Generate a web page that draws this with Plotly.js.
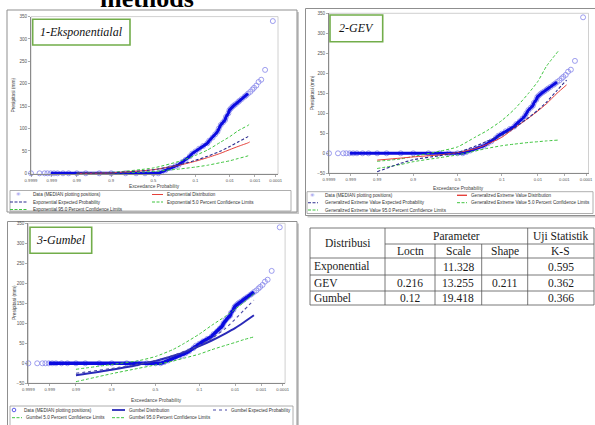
<!DOCTYPE html>
<html><head><meta charset="utf-8">
<script src="https://cdn.plot.ly/plotly-3.0.1.min.js"></script>
<style>html,body{margin:0;padding:0;background:#fff}#chart{width:595px;height:425px}</style>
</head><body><div id="chart"></div>
<script>
// ---------- tick labels ----------
const probTicks = [0.9999, 0.999, 0.99, 0.9, 0.5, 0.1, 0.01, 0.001, 0.0001];
const probTickText = ['0.9999', '0.999', '0.99', '0.9', '0.5', '0.1', '0.01', '0.001', '0.0001'];
const yTicksExp = [0, 50, 100, 150, 200, 250, 300, 350];
const yTicksOther = [-50, 0, 50, 100, 150, 200, 250, 300, 350];

// ---------- observed data (exceedance probability, rainfall mm) ----------
const dataP = [0.9999, 0.99973, 0.99953, 0.99936, 0.9991, 0.99874, 0.9982, 0.997, 0.995, 0.99, 0.98, 0.95, 0.9, 0.8, 0.7, 0.6, 0.5, 0.44,
  0.40, 0.356, 0.30, 0.25, 0.221, 0.19, 0.164, 0.134, 0.119, 0.1, 0.082, 0.065, 0.0505, 0.0446, 0.0359, 0.03, 0.0256, 0.0233, 0.0202,
  0.017, 0.0146, 0.0136, 0.0113, 0.0104, 0.0092, 0.008, 0.007, 0.006, 0.005, 0.0044, 0.0036, 0.0028, 0.0024, 0.002, 0.0016, 0.0013,
  0.0011, 0.00087, 0.00069, 0.00052, 0.00034, 0.00014];
const dataV = [0, 0, 0, 0, 0, 0, 0, 0, 0, 0, 0, 0, 0, 0, 0, 0, 0, 0,
  3, 7, 12, 16, 19, 25, 30, 38, 44, 49, 55, 61, 67, 73, 80, 87, 93, 100, 108,
  114, 119, 126, 134, 141, 145, 149, 152, 155, 159, 162, 166, 171, 174, 178, 182, 187,
  191, 196, 204, 209, 231, 340];

// ---------- 1 - Exponential ----------
const expP = [0.99, 0.9, 0.5, 0.2, 0.1, 0.05, 0.02, 0.01, 0.005, 0.002, 0.0017];
const expDistV = [0, 1, 8, 19, 27, 35, 45, 53, 60, 68, 70];
const expExpV = [0, 1, 8, 20, 29, 38, 50, 60, 70, 82, 85];
const expUpV = [0, 2, 12, 28, 40, 52, 70, 82, 95, 107, 110];
const expLoV = [0, 0.5, 4, 10, 14, 18, 24, 28, 33, 39, 41];

// ---------- 2 - GEV ----------
const gevP = [0.99, 0.95, 0.9, 0.7, 0.5, 0.3, 0.2, 0.1, 0.05, 0.02, 0.01, 0.005, 0.002, 0.0008];
const gevDistV = [-17, -12, -9, -4, 2, 12, 22, 40, 63, 88, 106, 124, 150, 171];
const gevExpV = [-46, -25, -16, -6, 2, 18, 30, 45, 64, 89, 108, 128, 157, 183];
const gevCiP = [0.99, 0.95, 0.9, 0.7, 0.5, 0.3, 0.2, 0.1, 0.05, 0.02, 0.01, 0.005, 0.0018];
const gevUpV = [-20, -14, -8, 5, 16, 41, 56, 82, 110, 150, 180, 218, 255];
const gevLoV = [-38, -28, -21, -11, -4, 6, 12, 19, 23, 27, 29, 31, 33];

// ---------- 3 - Gumbel ----------
const gumP = [0.99, 0.9, 0.7, 0.5, 0.3, 0.2, 0.1, 0.05, 0.02, 0.01, 0.005, 0.002];
const gumDistV = [-30, -16, -4, 6, 19, 28, 43, 57, 75, 88, 102, 120];
const gumExpV = [-25, -13, -2, 7, 20, 30, 45, 62, 88, 110, 132, 158];
const gumUpV = [-15, -3, 6, 17, 35, 50, 73, 95, 118, 135, 152, 174];
const gumLoV = [-46, -26, -13, -4, 6, 13, 23, 34, 45, 52, 59, 66];

// ---------- table ----------
const tblDist = ['Exponential', 'GEV', 'Gumbel'];
const tblLoc = ['', '0.216', '0.12'];
const tblScale = ['11.328', '13.255', '19.418'];
const tblShape = ['', '0.211', ''];
const tblKS = ['0.595', '0.362', '0.366'];

// ---------- normal probability axis transform ----------
function normInv(p) {
  const a = [-3.969683028665376e+01, 2.209460984245205e+02, -2.759285104469687e+02, 1.383577518672690e+02, -3.066479806614716e+01, 2.506628277459239e+00];
  const b = [-5.447609879822406e+01, 1.615858368580409e+02, -1.556989798598866e+02, 6.680131188771972e+01, -1.328068155288572e+01];
  const c = [-7.784894002430293e-03, -3.223964580411365e-01, -2.400758277161838e+00, -2.549732539343734e+00, 4.374664141464968e+00, 2.938163982698783e+00];
  const d = [7.784695709041462e-03, 3.224671290700398e-01, 2.445134137142996e+00, 3.754408661907416e+00];
  const pl = 0.02425, ph = 1 - pl; let q, r;
  if (p < pl) { q = Math.sqrt(-2 * Math.log(p)); return (((((c[0]*q+c[1])*q+c[2])*q+c[3])*q+c[4])*q+c[5]) / ((((d[0]*q+d[1])*q+d[2])*q+d[3])*q+1); }
  if (p <= ph) { q = p - 0.5; r = q*q; return (((((a[0]*r+a[1])*r+a[2])*r+a[3])*r+a[4])*r+a[5])*q / (((((b[0]*r+b[1])*r+b[2])*r+b[3])*r+b[4])*r+1); }
  q = Math.sqrt(-2 * Math.log(1 - p)); return -(((((c[0]*q+c[1])*q+c[2])*q+c[3])*q+c[4])*q+c[5]) / ((((d[0]*q+d[1])*q+d[2])*q+d[3])*q+1);
}
const zx = p => normInv(1 - p);

// ---------- helpers ----------
const W = 595, H = 425;
const px = x => x / W, py = y => 1 - y / H;
const FONT = 'Arial, "Liberation Sans", sans-serif';
const SERIF = '"Liberation Serif", "Times New Roman", serif';
const RED = '#e5413b', NAVY = '#2c2c8e', GREEN = '#3fc43f', DATA = '#0b0be0', MARK = '#8585ea';

function rect(x0, y0, x1, y1, line, fill, layer) {
  return {type: 'rect', xref: 'paper', yref: 'paper', x0: px(x0), x1: px(x1), y0: py(y1), y1: py(y0),
    line: line, fillcolor: fill || 'rgba(0,0,0,0)', layer: layer || 'above'};
}
function seg(x0, y0, x1, y1, color, width, dash) {
  return {type: 'line', xref: 'paper', yref: 'paper', x0: px(x0), x1: px(x1), y0: py(y0), y1: py(y1),
    line: {color: color, width: width, dash: dash || 'solid'}};
}
function txt(x, y, text, size, opts) {
  return Object.assign({xref: 'paper', yref: 'paper', x: px(x), y: py(y), text: text, showarrow: false,
    xanchor: 'left', yanchor: 'middle', font: {family: FONT, size: size, color: '#333'}}, opts || {});
}

const traces = [];
function addData(xa, ya, lineW) {
  const denseX = [], denseY = [];
  dataP.forEach((p, i) => { if (p <= 0.9991 && dataV[i] <= 180) { denseX.push(zx(p)); denseY.push(dataV[i]); } });
  traces.push({x: dataP.map(zx), y: dataV, xaxis: xa, yaxis: ya, mode: 'markers', cliponaxis: false,
    marker: {symbol: 'circle-open', size: 5, color: MARK, line: {width: 0.8, color: MARK}}, hoverinfo: 'skip'});
  traces.push({x: denseX, y: denseY, xaxis: xa, yaxis: ya, mode: 'lines', line: {color: DATA, width: lineW}, hoverinfo: 'skip'});
}
function addLine(P, V, xa, ya, color, width, dash) {
  traces.push({x: P.map(zx), y: V, xaxis: xa, yaxis: ya, mode: 'lines', line: {color: color, width: width, dash: dash, shape: 'spline', smoothing: 0.6}, hoverinfo: 'skip'});
}

// panel 1
addData('x', 'y', 3);
addLine(expP, expLoV, 'x', 'y', GREEN, 1, '3px,2px');
addLine(expP, expUpV, 'x', 'y', GREEN, 1, '3px,2px');
addLine(expP, expDistV, 'x', 'y', RED, 1, 'solid');
addLine(expP, expExpV, 'x', 'y', NAVY, 1.1, '3px,2px');
// panel 2
addData('x2', 'y2', 3);
addLine(gevCiP, gevLoV, 'x2', 'y2', GREEN, 1, '3px,2px');
addLine(gevCiP, gevUpV, 'x2', 'y2', GREEN, 1, '3px,2px');
addLine(gevP, gevDistV, 'x2', 'y2', RED, 1, 'solid');
addLine(gevP, gevExpV, 'x2', 'y2', NAVY, 1.1, '3px,2px');
// panel 3
addData('x3', 'y3', 3.5);
addLine(gumP, gumLoV, 'x3', 'y3', GREEN, 1, '3px,2px');
addLine(gumP, gumUpV, 'x3', 'y3', GREEN, 1, '3px,2px');
addLine(gumP, gumDistV, 'x3', 'y3', '#2a2ab8', 2, 'solid');
addLine(gumP, gumExpV, 'x3', 'y3', '#4a4aa6', 1.1, 'dot');

// axes
function xAx(dom) {
  return {domain: [px(dom[0]), px(dom[1])], range: [-3.72, 3.79], tickmode: 'array', tickvals: probTicks.map(zx), ticktext: probTickText,
    showgrid: false, zeroline: false, showline: true, linecolor: '#8a8a8a', linewidth: 1, ticks: 'outside', ticklen: 2,
    tickwidth: 0.7, tickcolor: '#8a8a8a', tickfont: {family: FONT, size: 4.2, color: '#555'}, fixedrange: true};
}
function yAx(top, bottom, range, ticks, anchor) {
  return {domain: [py(bottom), py(top)], range: range, tickmode: 'array', tickvals: ticks, anchor: anchor,
    showgrid: false, zeroline: false, showline: true, linecolor: '#8a8a8a', linewidth: 1, ticks: 'outside', ticklen: 2,
    tickwidth: 0.7, tickcolor: '#8a8a8a', tickfont: {family: FONT, size: 4.6, color: '#555'}, fixedrange: true};
}

const shapes = [];
// panel frames with shadows
[[7, 10, 297, 212], [305.5, 8.5, 596, 215.5], [7.5, 221.5, 297, 432]].forEach(f => {
  shapes.push(rect(f[0] + 2, f[1] + 2, f[2] + 2, f[3] + 2, {width: 0}, '#c9c9c9', 'below'));
  shapes.push(rect(f[0], f[1], f[2], f[3], {color: '#8f8f8f', width: 1}, '#ffffff', 'below'));
});
// plot area borders
[['x', 'y'], ['x2', 'y2'], ['x3', 'y3']].forEach(a => {
  shapes.push({type: 'rect', xref: a[0] + ' domain', yref: a[1] + ' domain', x0: 0, x1: 1, y0: 0, y1: 1, line: {color: '#c4c4c4', width: 0.8}, layer: 'below'});
});
// legend boxes
shapes.push(rect(10, 190.5, 291, 211, {color: '#9a9a9a', width: 0.8}));
shapes.push(rect(307, 191.7, 593, 213.5, {color: '#9a9a9a', width: 0.8}));
shapes.push(rect(10, 406, 293, 430, {color: '#9a9a9a', width: 0.8}));
// label boxes
shapes.push(rect(32.7, 19.3, 130, 45, {color: '#72ad4a', width: 1.6}, '#ffffff'));
shapes.push(rect(330, 15, 382.7, 41.7, {color: '#72ad4a', width: 1.6}, '#ffffff'));
shapes.push(rect(30, 227.3, 91.7, 253.3, {color: '#72ad4a', width: 1.6}, '#ffffff'));

// legend symbols
shapes.push(seg(152, 194.5, 163, 194.5, RED, 1));
shapes.push(seg(10, 202, 27, 202, NAVY, 1.1, '3px,1.5px'));
shapes.push(seg(152, 202, 163, 202, GREEN, 1, '3px,1.5px'));
shapes.push(seg(10, 209.5, 27, 209.5, GREEN, 1, '3px,1.5px'));

shapes.push(seg(457, 195.3, 467, 195.3, RED, 1.4));
shapes.push(seg(308, 202.7, 318, 202.7, NAVY, 1.1, '3px,1.5px'));
shapes.push(seg(457, 202.7, 467, 202.7, GREEN, 1, '3px,1.5px'));
shapes.push(seg(308, 210, 318, 210, GREEN, 1, '3px,1.5px'));

shapes.push({type: 'circle', xref: 'paper', yref: 'paper', x0: px(12.2), x1: px(15.8), y0: py(411.8), y1: py(408.2), line: {color: '#4848e6', width: 0.9}});
shapes.push(seg(112, 410, 125, 410, '#2a2ab8', 1.8));
shapes.push(seg(213, 410, 227, 410, '#4a4aa6', 1, 'dot'));
shapes.push(seg(12, 417.7, 22, 417.7, GREEN, 1, '3px,1.5px'));
shapes.push(seg(112, 417.7, 125, 417.7, GREEN, 1, '3px,1.5px'));

// table lines
const TL = {color: '#555', width: 0.8};
const tX = [310, 385, 435, 481.7, 527.7, 594];
const tY = [228, 244, 258, 275, 291, 305];
shapes.push(seg(tX[0], tY[0], tX[5], tY[0], TL.color, TL.width));
shapes.push(seg(tX[1], tY[1], tX[5], tY[1], TL.color, TL.width));
[2, 3, 4, 5].forEach(i => shapes.push(seg(tX[0], tY[i], tX[5], tY[i], TL.color, TL.width)));
[0, 1, 4, 5].forEach(i => shapes.push(seg(tX[i], tY[0], tX[i], tY[5], TL.color, TL.width)));
[2, 3].forEach(i => shapes.push(seg(tX[i], tY[1], tX[i], tY[5], TL.color, TL.width)));

const ann = [];
// cut title (only its lower part is visible, as in the reference)
ann.push(txt(147, 14.5, '<b>methods</b>', 26, {xanchor: 'center', yanchor: 'bottom', font: {family: SERIF, size: 26, color: '#000'}}));
// panel labels
ann.push(txt(81.3, 32.3, '<i>1-Eksponentialal</i>', 12, {xanchor: 'center', font: {family: SERIF, size: 12, color: '#111'}}));
ann.push(txt(356.3, 28.5, '<i>2-GEV</i>', 12, {xanchor: 'center', font: {family: SERIF, size: 12, color: '#111'}}));
ann.push(txt(60.8, 240.3, '<i>3-Gumbel</i>', 12, {xanchor: 'center', font: {family: SERIF, size: 12, color: '#111'}}));
// axis titles
const axT = {xanchor: 'center', font: {family: FONT, size: 4.8, color: '#444'}};
ann.push(txt(154.5, 187, 'Exceedance Probability', 4.8, axT));
ann.push(txt(458, 188.3, 'Exceedance Probability', 4.8, axT));
ann.push(txt(156.5, 400, 'Exceedance Probability', 4.8, axT));
const ayT = {xanchor: 'center', textangle: -90, font: {family: FONT, size: 4.8, color: '#444'}};
ann.push(txt(13.5, 95, 'Presipitasi (mm)', 4.8, ayT));
ann.push(txt(313.3, 93, 'Presipitasi (mm)', 4.8, ayT));
ann.push(txt(14, 303, 'Presipitasi (mm)', 4.8, ayT));
// legends
const LS = 4.6;
ann.push(txt(18.5, 194.2, '✳', 5.5, {xanchor: 'center', font: {family: 'DejaVu Sans', size: 5.5, color: MARK}}));
ann.push(txt(30.5, 194.5, 'Data (MEDIAN plotting positions)', LS));
ann.push(txt(165, 194.5, 'Exponential Distribution', LS));
ann.push(txt(30.5, 202, 'Exponential Expected Probability', LS));
ann.push(txt(165, 202, 'Exponential 5.0 Percent Confidence Limits', LS));
ann.push(txt(30.5, 209.5, 'Exponential 95.0 Percent Confidence Limits', LS));

ann.push(txt(312, 195, '✳', 5.5, {xanchor: 'center', font: {family: 'DejaVu Sans', size: 5.5, color: MARK}}));
ann.push(txt(323, 195.3, 'Data (MEDIAN plotting positions)', LS));
ann.push(txt(469, 195.3, 'Generalized Extreme Value Distribution', LS));
ann.push(txt(323, 202.7, 'Generalized Extreme Value Expected Probability', LS));
ann.push(txt(469, 202.7, 'Generalized Extreme Value 5.0 Percent Confidence Limits', LS));
ann.push(txt(323, 210, 'Generalized Extreme Value 95.0 Percent Confidence Limits', LS));

ann.push(txt(21.7, 410, 'Data (MEDIAN plotting positions)', LS));
ann.push(txt(127, 410, 'Gumbel Distribution', LS));
ann.push(txt(228.5, 410, 'Gumbel Expected Probability', LS));
ann.push(txt(23.5, 417.7, 'Gumbel 5.0 Percent Confidence Limits', LS));
ann.push(txt(127, 417.7, 'Gumbel 95.0 Percent Confidence Limits', LS));

// table texts
const TF = {family: SERIF, size: 11.5, color: '#1a1a1a'};
const c = (x, y, t) => txt(x, y, t, 11.5, {xanchor: 'center', font: TF});
ann.push(c((tX[0] + tX[1]) / 2, (tY[0] + tY[2]) / 2, 'Distribusi'));
ann.push(c((tX[1] + tX[4]) / 2, (tY[0] + tY[1]) / 2, 'Parameter'));
ann.push(c((tX[4] + tX[5]) / 2, (tY[0] + tY[1]) / 2, 'Uji Statistik'));
ann.push(c((tX[1] + tX[2]) / 2, (tY[1] + tY[2]) / 2, 'Loctn'));
ann.push(c((tX[2] + tX[3]) / 2, (tY[1] + tY[2]) / 2, 'Scale'));
ann.push(c((tX[3] + tX[4]) / 2, (tY[1] + tY[2]) / 2, 'Shape'));
ann.push(c((tX[4] + tX[5]) / 2, (tY[1] + tY[2]) / 2, 'K-S'));
tblDist.forEach((d, i) => {
  const yc = (tY[2 + i] + tY[3 + i]) / 2;
  ann.push(txt(tX[0] + 1.5, yc, d, 11.5, {font: TF}));
  ann.push(c((tX[1] + tX[2]) / 2, yc, tblLoc[i]));
  ann.push(c((tX[2] + tX[3]) / 2, yc, tblScale[i]));
  ann.push(c((tX[3] + tX[4]) / 2, yc, tblShape[i]));
  ann.push(c((tX[4] + tX[5]) / 2, yc, tblKS[i]));
});

const layout = {
  width: W, height: H, margin: {l: 0, r: 0, t: 0, b: 0}, showlegend: false,
  paper_bgcolor: '#ffffff', plot_bgcolor: 'rgba(0,0,0,0)',
  xaxis: Object.assign(xAx([31, 278]), {anchor: 'y'}),
  yaxis: yAx(16.6, 174.2, [-2, 350], yTicksExp, 'x'),
  xaxis2: Object.assign(xAx([329, 588.5]), {anchor: 'y2'}),
  yaxis2: yAx(13.3, 173.3, [-50, 350], yTicksOther, 'x2'),
  xaxis3: Object.assign(xAx([28.3, 285.1]), {anchor: 'y3'}),
  yaxis3: yAx(223.3, 383.3, [-50, 350], yTicksOther, 'x3'),
  shapes: shapes, annotations: ann
};
Plotly.newPlot('chart', traces, layout, {staticPlot: true, displayModeBar: false});
</script></body></html>
